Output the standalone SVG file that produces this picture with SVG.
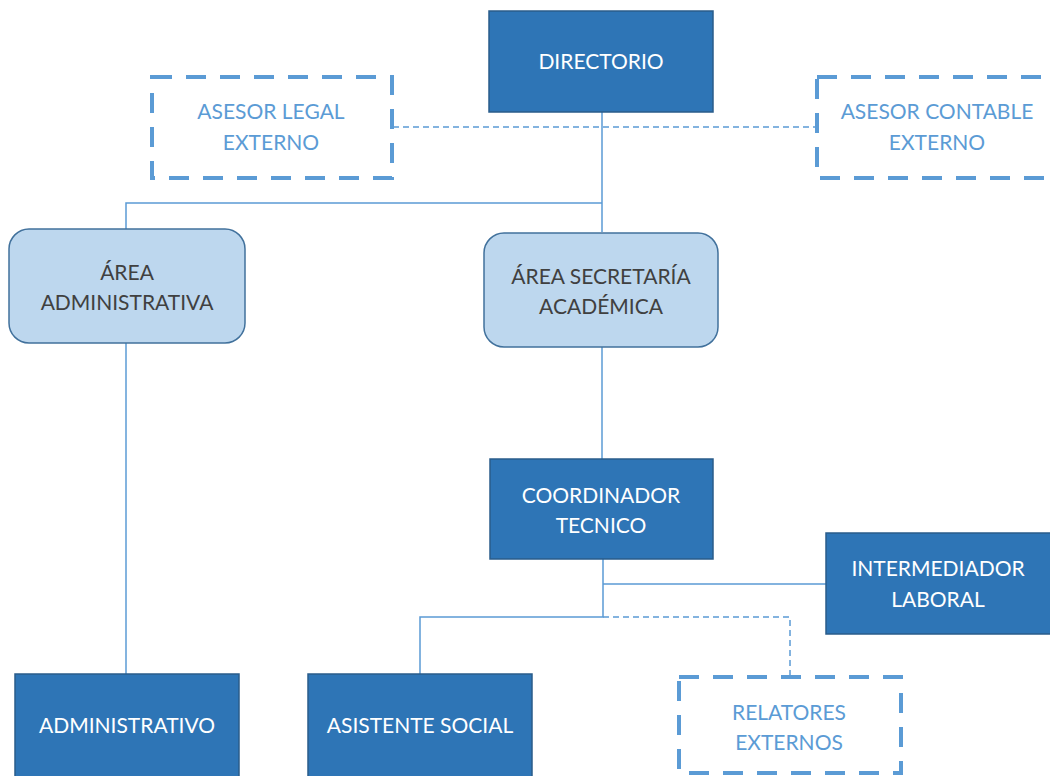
<svg xmlns="http://www.w3.org/2000/svg" width="1050" height="776" viewBox="0 0 1050 776">
<style>
.dark{fill:#2E75B6;stroke:#2A5C8A;stroke-width:1.5}
.light{fill:#BDD7EE;stroke:#41719C;stroke-width:1.5}
.ext{fill:#FFFFFF;stroke:#5B9BD5;stroke-width:4;stroke-dasharray:20 14}
.ln{fill:none;stroke:#5B9BD5;stroke-width:1.5}
.dl{fill:none;stroke:#5B9BD5;stroke-width:1.5;stroke-dasharray:6 4}
text{font-family:Lato,"Liberation Sans",sans-serif;font-size:21px;text-anchor:middle}
.tw{fill:#FFFFFF}
.tb{fill:#404040}
.tl{fill:#5B9BD5}
</style>
<rect width="1050" height="776" fill="#FFFFFF"/>
<g id="connectors">
<path class="ln" d="M602 112 V232 M602 203 H126 V229"/>
<path class="ln" d="M602 347 V459"/>
<path class="ln" d="M126 343 V674"/>
<path class="ln" d="M603 559 V617 H420 V674 M603 584 H826"/>
<path class="dl" d="M603 617 H790 V676"/>
<path class="dl" d="M393 127 H816"/>
</g>
<g id="directorio"><rect class="dark" x="489" y="11" width="224" height="101"/><text class="tw" x="601" y="69">DIRECTORIO</text></g>
<g id="asesor-legal"><rect class="ext" x="152" y="77" width="240" height="101"/><text class="tl" x="271" y="119">ASESOR LEGAL</text><text class="tl" x="271" y="150">EXTERNO</text></g>
<g id="asesor-contable"><rect class="ext" x="817" y="77" width="250" height="101"/><text class="tl" x="937" y="119">ASESOR CONTABLE</text><text class="tl" x="937" y="150">EXTERNO</text></g>
<g id="area-administrativa"><rect class="light" x="9" y="229" width="236" height="114" rx="20"/><text class="tb" x="127" y="280">ÁREA</text><text class="tb" x="127" y="310">ADMINISTRATIVA</text></g>
<g id="area-secretaria"><rect class="light" x="484" y="233" width="234" height="114" rx="20"/><text class="tb" x="601" y="284">ÁREA SECRETARÍA</text><text class="tb" x="601" y="314">ACADÉMICA</text></g>
<g id="coordinador"><rect class="dark" x="490" y="459" width="223" height="100"/><text class="tw" x="601" y="503">COORDINADOR</text><text class="tw" x="601" y="533">TECNICO</text></g>
<g id="intermediador"><rect class="dark" x="826" y="533" width="240" height="101"/><text class="tw" x="938" y="576">INTERMEDIADOR</text><text class="tw" x="938" y="607">LABORAL</text></g>
<g id="administrativo"><rect class="dark" x="15" y="674" width="224" height="110"/><text class="tw" x="127" y="733">ADMINISTRATIVO</text></g>
<g id="asistente-social"><rect class="dark" x="308" y="674" width="224" height="110"/><text class="tw" x="420" y="733">ASISTENTE SOCIAL</text></g>
<g id="relatores"><rect class="ext" x="679" y="677" width="222" height="96"/><text class="tl" x="789" y="720">RELATORES</text><text class="tl" x="789" y="750">EXTERNOS</text></g>
</svg>
